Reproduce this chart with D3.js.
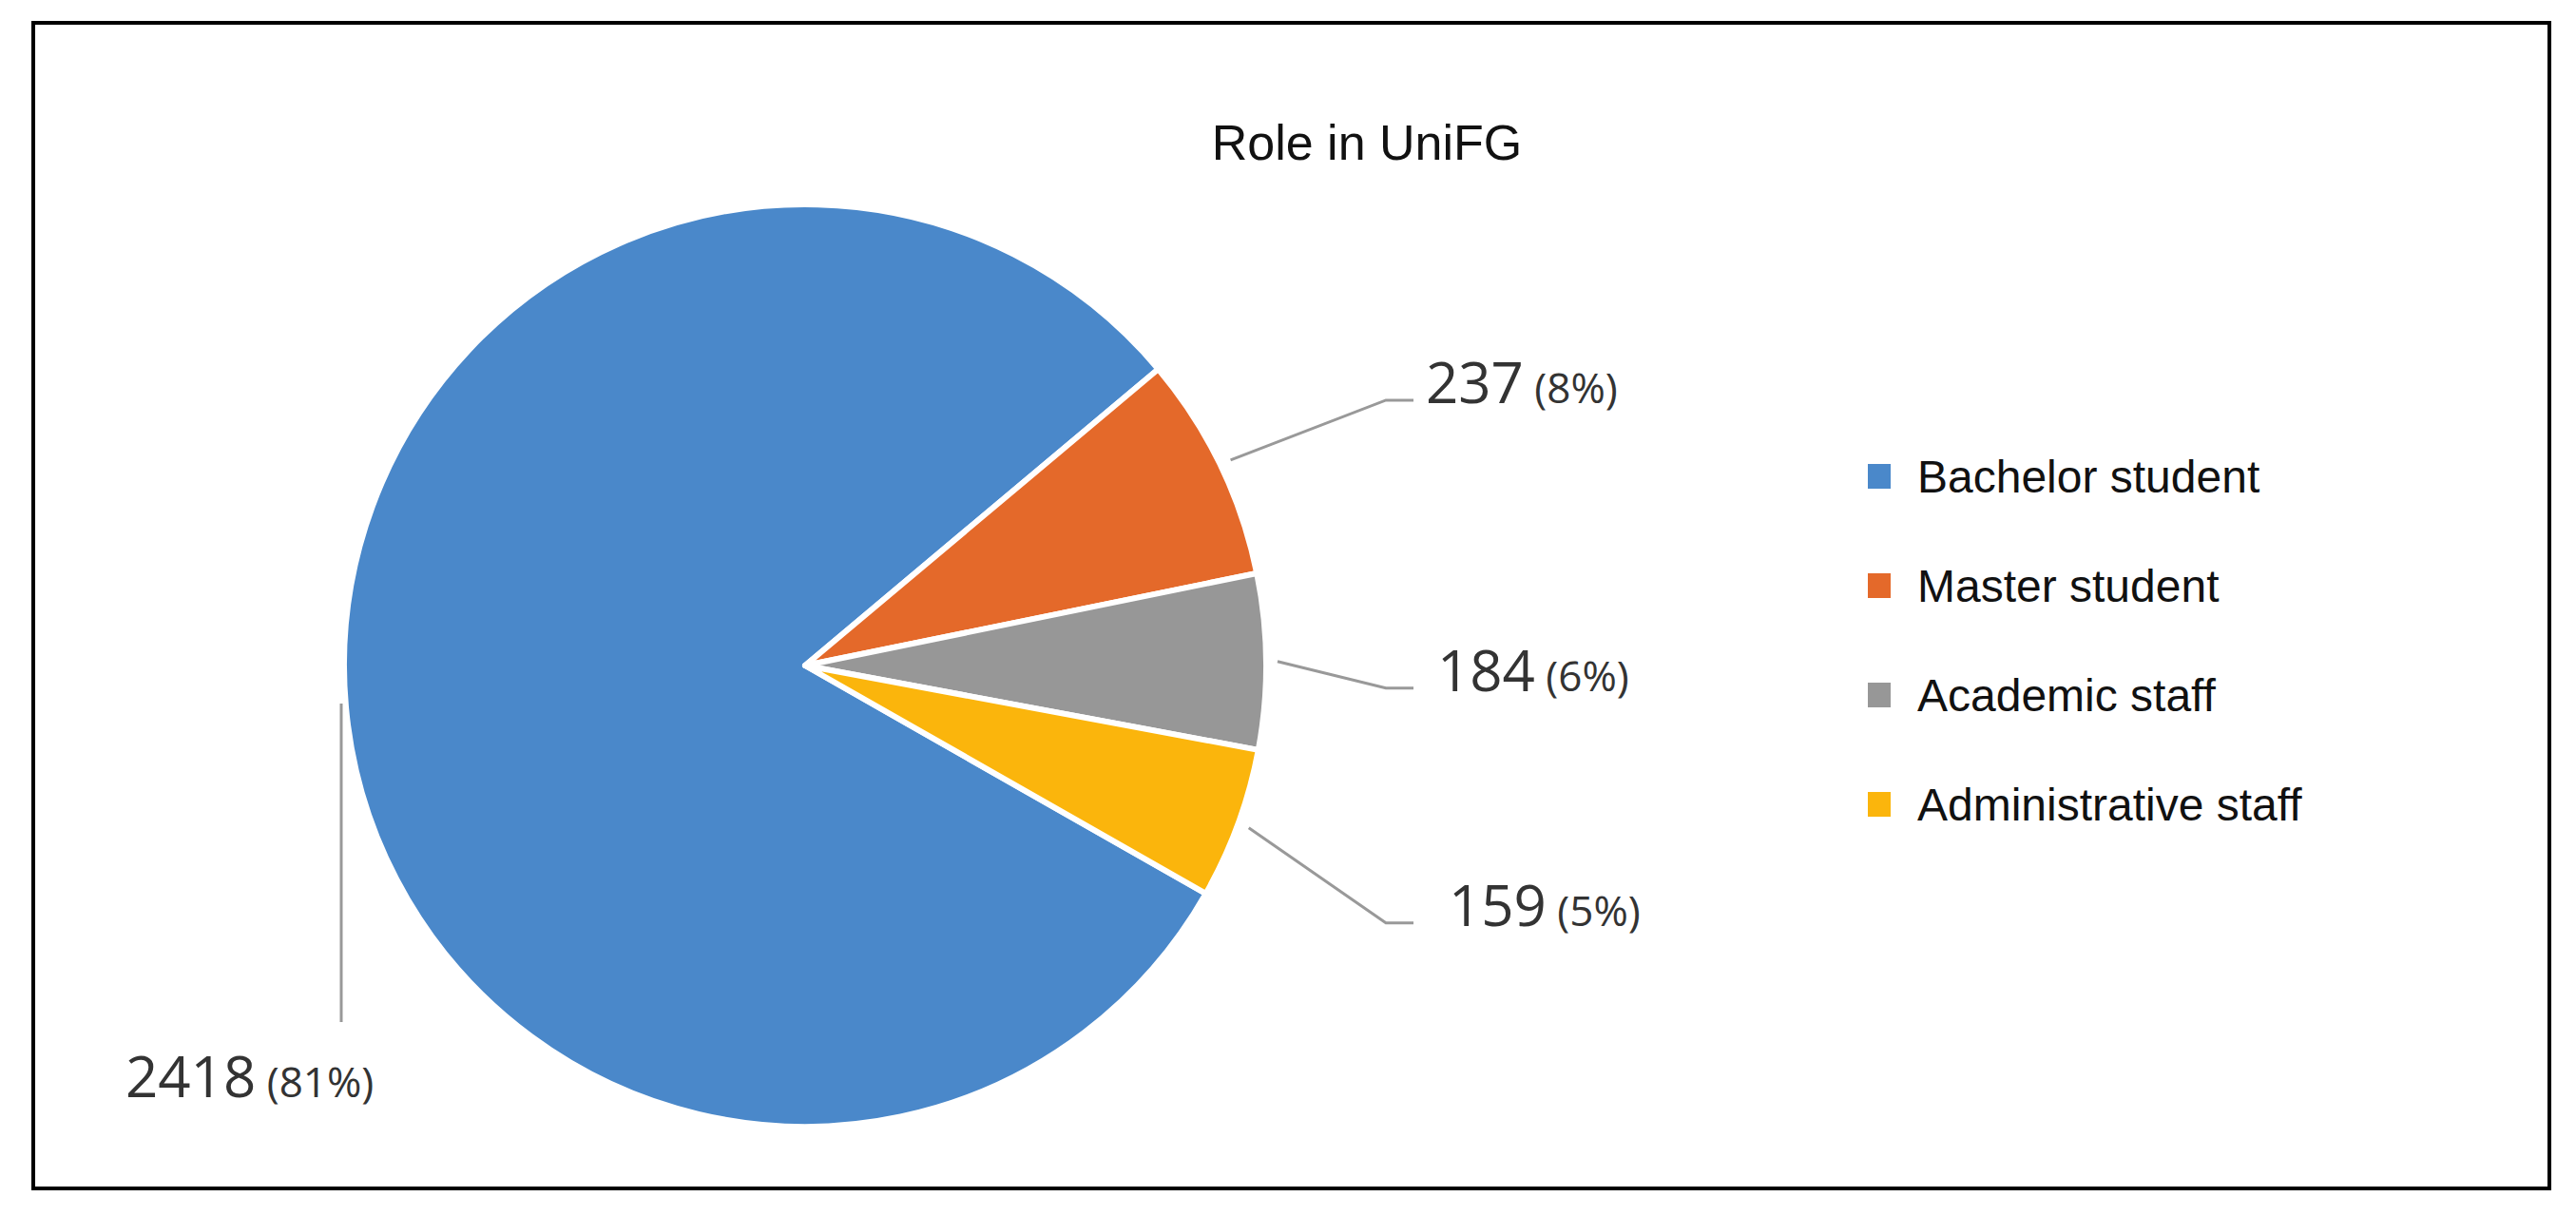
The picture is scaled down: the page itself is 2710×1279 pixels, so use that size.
<!DOCTYPE html>
<html>
<head>
<meta charset="utf-8">
<script src="https://cdn.jsdelivr.net/npm/d3@7"></script>
<style>
  body { margin: 0; background: #fff; }
</style>
</head>
<body>
<div id="chart"></div>
<script>
// data
const categories = ["Bachelor student", "Master student", "Academic staff", "Administrative staff"];
const counts = [2418, 237, 184, 159];
const percents = ["81%", "8%", "6%", "5%"];
const colors = ["#4a88ca", "#e4692a", "#979797", "#fbb50c"];

const width = 2710, height = 1279;
const cx = 847, cy = 700, radius = 485;

let svg = d3.select("#chart").append("svg")
    .attr("width", width)
    .attr("height", height);

// frame
svg.append("rect")
    .attr("x", 35).attr("y", 24)
    .attr("width", 2647).attr("height", 1226)
    .attr("fill", "none")
    .attr("stroke", "#000")
    .attr("stroke-width", 4);

// title
svg.append("text")
    .attr("x", 1438).attr("y", 168)
    .attr("text-anchor", "middle")
    .style("font-family", "Liberation Sans, Arial, sans-serif")
    .style("font-size", "52px")
    .attr("fill", "#111")
    .text("Role in UniFG");

// pie: the small slices start at ~50deg clockwise from 12 o'clock
let total = d3.sum(counts);
let firstStart = 50 * Math.PI / 180 - counts[0] / total * 2 * Math.PI;
let pie = d3.pie().sort(null)
    .startAngle(firstStart)
    .endAngle(firstStart + 2 * Math.PI);
let arcs = pie(counts);

let arc = d3.arc().innerRadius(0).outerRadius(radius);

let g = svg.append("g").attr("transform", "translate(" + cx + "," + cy + ")");

g.selectAll("path")
    .data(arcs)
    .enter()
    .append("path")
    .attr("d", arc)
    .attr("fill", (d, i) => colors[i])
    .attr("stroke", "#fff")
    .attr("stroke-width", 6)
    .attr("stroke-linejoin", "round");

// leader lines and labels
let labelArc = d3.arc().innerRadius(radius + 12).outerRadius(radius + 12);
let elbowDy = [0, -63, 28, 100];

arcs.forEach((d, i) => {
    let p = labelArc.centroid(d);
    let pts, tx, ty, anchor = "start";
    if (i === 0) {
        let x = -radius - 3;
        pts = [[x, 40], [x, 375]];
        tx = -radius - 230; ty = 454;
    } else {
        let ey = p[1] + elbowDy[i];
        pts = [p, [611, ey], [640, ey]];
        tx = 653 + (i - 1) * 12; ty = ey + 3;
    }
    g.append("path")
        .attr("d", d3.line()(pts))
        .attr("fill", "none")
        .attr("stroke", "#999")
        .attr("stroke-width", 3);

    let t = g.append("text")
        .attr("x", tx).attr("y", ty)
        .attr("text-anchor", anchor)
        .style("font-family", "Open Sans, sans-serif")
        .attr("fill", "#333");
    t.append("tspan")
        .style("font-size", "60px")
        .text(counts[i]);
    t.append("tspan")
        .style("font-size", "44px")
        .text(" (" + percents[i] + ")");
});

// legend
let legend = svg.selectAll(".legend")
    .data(categories)
    .enter()
    .append("g")
    .attr("transform", (d, i) => "translate(1965," + (501 + i * 115) + ")");

legend.append("rect")
    .attr("x", 0).attr("y", -13)
    .attr("width", 24).attr("height", 26)
    .attr("fill", (d, i) => colors[i]);

legend.append("text")
    .attr("x", 52).attr("y", 17)
    .style("font-family", "Liberation Sans, Arial, sans-serif")
    .style("font-size", "48px")
    .attr("fill", "#111")
    .text(d => d);
</script>
</body>
</html>
